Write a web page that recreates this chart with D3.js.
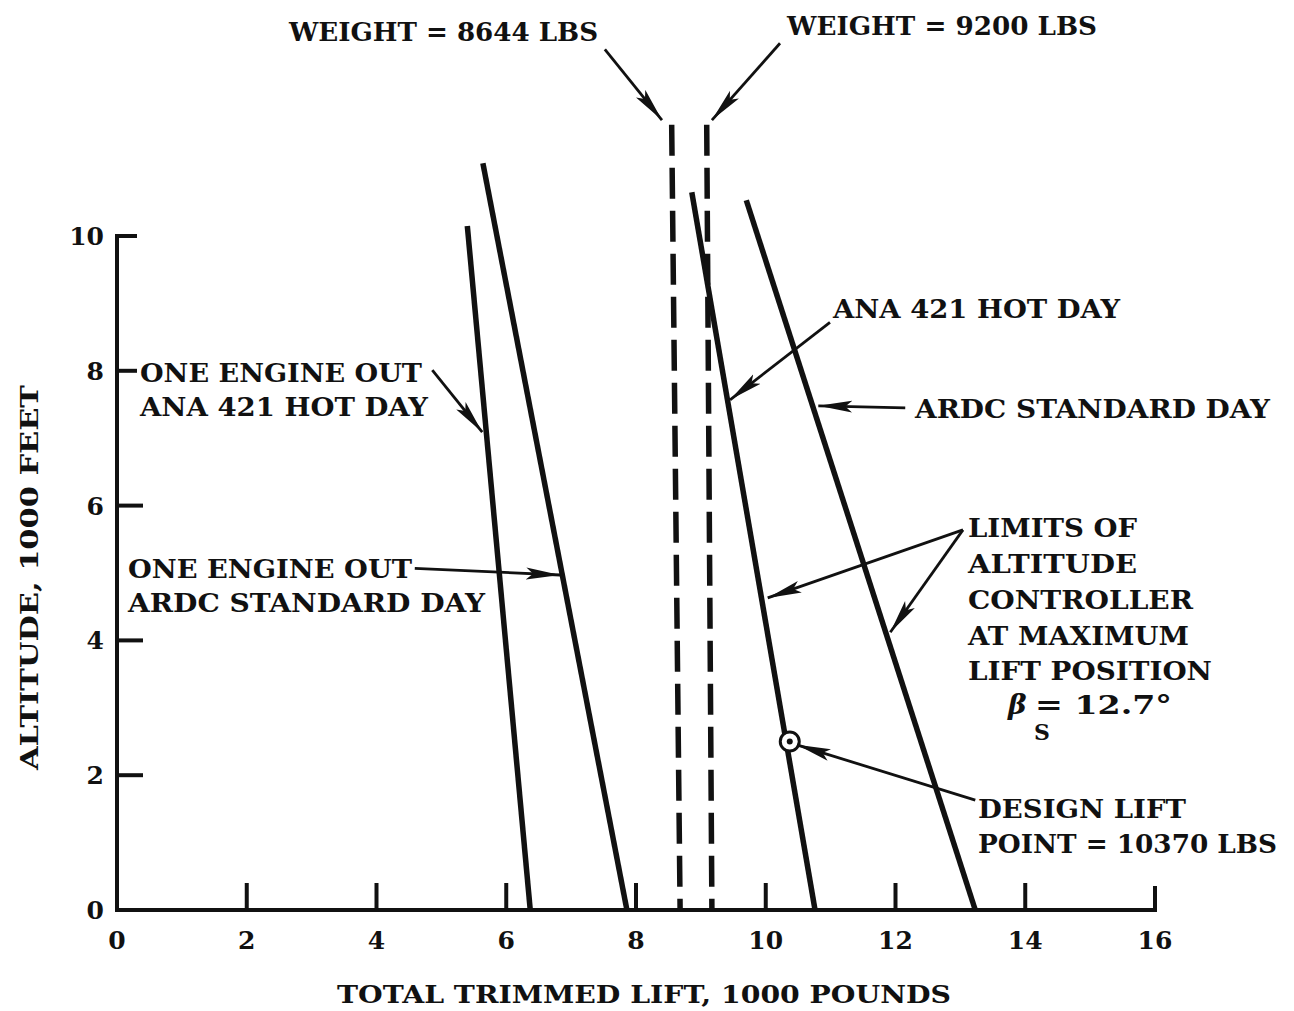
<!DOCTYPE html>
<html><head><meta charset="utf-8">
<script src="https://cdn.jsdelivr.net/npm/d3@7"></script>
<style>body{margin:0;background:#fff}svg{display:block}text{font-family:"DejaVu Serif",serif;font-weight:bold;fill:#111}</style>
</head><body>
<svg id="c" width="1294" height="1011"></svg>
<script>
// ---- data ----
const xTicks = [0, 2, 4, 6, 8, 10, 12, 14, 16];
const yTicks = [0, 2, 4, 6, 8, 10];
// [lift (1000 lb), altitude (1000 ft)]
const oneEngineOutAnaHot = [[5.40, 10.15], [6.37, 0]];
const oneEngineOutArdcStd = [[5.64, 11.08], [7.86, 0]];
const anaHotDay = [[8.86, 10.65], [10.76, 0]];
const ardcStandardDay = [[9.70, 10.53], [13.23, 0]];
const weight8644 = [[8.55, 11.65], [8.68, 0]];
const weight9200 = [[9.09, 11.65], [9.17, 0]];
const designLiftPoint = [10.37, 2.5];

// ---- layout ----
const svg = d3.select("#c");
const x = d3.scaleLinear().domain([0, 16]).range([117, 1155]);
const y = d3.scaleLinear().domain([0, 10]).range([910, 236]);
const line = d3.line().x(d => x(d[0])).y(d => y(d[1]));

svg.append("defs").append("marker")
  .attr("id", "ah").attr("viewBox", "0 0 34 14").attr("refX", 34).attr("refY", 7)
  .attr("markerWidth", 34).attr("markerHeight", 14).attr("markerUnits", "userSpaceOnUse")
  .attr("orient", "auto")
  .append("path").attr("d", "M0,1 L34,7 L0,13 L7,7 Z").attr("fill", "#111");

// axes
const g = svg.append("g").attr("stroke", "#111").attr("fill", "none").attr("stroke-linecap", "butt");
g.append("path").attr("stroke-width", 4)
  .attr("d", `M${x(0) + 20},${y(10)} L${x(0)},${y(10)} L${x(0)},${y(0)} L${x(16)},${y(0)} L${x(16)},${y(0) - 24}`);
xTicks.filter(t => t > 0 && t < 16).forEach(t => {
  g.append("line").attr("stroke-width", 4).attr("x1", x(t)).attr("x2", x(t)).attr("y1", y(0)).attr("y2", y(0) - 27);
});
yTicks.filter(t => t > 0 && t < 10).forEach(t => {
  g.append("line").attr("stroke-width", 4).attr("x1", x(0)).attr("x2", x(0) + (t === 8 ? 20 : 26)).attr("y1", y(t)).attr("y2", y(t));
});

// tick labels
svg.append("g").selectAll("text").data(xTicks).join("text")
  .attr("x", d => x(d)).attr("y", 949).attr("text-anchor", "middle").attr("font-size", 25).text(d => d);
svg.append("g").selectAll("text").data(yTicks).join("text")
  .attr("x", 104).attr("y", d => y(d) + 9).attr("text-anchor", "end").attr("font-size", 25).text(d => d);

// axis titles
svg.append("text").attr("x", 337).attr("y", 1003).attr("font-size", 25)
  .attr("textLength", 614).attr("lengthAdjust", "spacingAndGlyphs").text("TOTAL TRIMMED LIFT,  1000 POUNDS");
svg.append("text").attr("transform", "translate(38,770) rotate(-90)").attr("font-size", 25)
  .attr("textLength", 385).attr("lengthAdjust", "spacingAndGlyphs").text("ALTITUDE,  1000 FEET");

// curves
[oneEngineOutAnaHot, oneEngineOutArdcStd, anaHotDay, ardcStandardDay].forEach(s => {
  svg.append("path").attr("d", line(s)).attr("fill", "none").attr("stroke", "#111").attr("stroke-width", 5.5);
});
[weight8644, weight9200].forEach(s => {
  svg.append("path").attr("d", line(s)).attr("fill", "none").attr("stroke", "#111")
    .attr("stroke-width", 5.5).attr("stroke-dasharray", "31,12");
});

// design lift point
svg.append("circle").attr("cx", x(designLiftPoint[0])).attr("cy", y(designLiftPoint[1])).attr("r", 9.5)
  .attr("fill", "#fff").attr("stroke", "#111").attr("stroke-width", 3);
svg.append("circle").attr("cx", x(designLiftPoint[0])).attr("cy", y(designLiftPoint[1])).attr("r", 3).attr("fill", "#111");

// arrows (data coords)
const arrows = [
  [[7.52, 12.77], [8.40, 11.72]],
  [[10.22, 12.86], [9.17, 11.72]],
  [[4.86, 8.01], [5.63, 7.09]],
  [[4.59, 5.07], [6.83, 4.97]],
  [[10.99, 8.72], [9.45, 7.57]],
  [[12.15, 7.45], [10.81, 7.48]],
  [[13.04, 5.64], [10.03, 4.63]],
  [[13.04, 5.64], [11.92, 4.12]],
  [[13.23, 1.63], [10.48, 2.45]]
];
arrows.forEach(a => {
  svg.append("path").attr("d", line(a)).attr("stroke", "#111").attr("stroke-width", 2.8)
    .attr("fill", "none").attr("marker-end", "url(#ah)");
});

// labels [text, px x, baseline y, width]
const labels = [
  ["WEIGHT = 8644 LBS", 289, 41, 309],
  ["WEIGHT = 9200 LBS", 787, 35, 310],
  ["ANA 421 HOT DAY", 833, 318, 287],
  ["ARDC STANDARD DAY", 915, 418, 355],
  ["ONE ENGINE OUT", 140, 382, 282],
  ["ANA 421 HOT DAY", 140, 416, 288],
  ["ONE ENGINE OUT", 128, 578, 284],
  ["ARDC STANDARD DAY", 128, 612, 357],
  ["LIMITS OF", 968, 537, 169],
  ["ALTITUDE", 968, 573, 169],
  ["CONTROLLER", 968, 609, 225],
  ["AT MAXIMUM", 968, 645, 221],
  ["LIFT POSITION", 968, 680, 244],
  ["= 12.7°", 1035, 714, 137],
  ["DESIGN LIFT", 978, 818, 208],
  ["POINT = 10370 LBS", 978, 853, 299]
];
labels.forEach(l => {
  svg.append("text").attr("x", l[1]).attr("y", l[2]).attr("font-size", 26)
    .attr("textLength", l[3]).attr("lengthAdjust", "spacingAndGlyphs").text(l[0]);
});
svg.append("text").attr("x", 1008).attr("y", 714).attr("font-size", 28).attr("font-style", "italic").text("β");
svg.append("text").attr("x", 1034).attr("y", 740).attr("font-size", 22).text("S");
</script>
</body></html>
